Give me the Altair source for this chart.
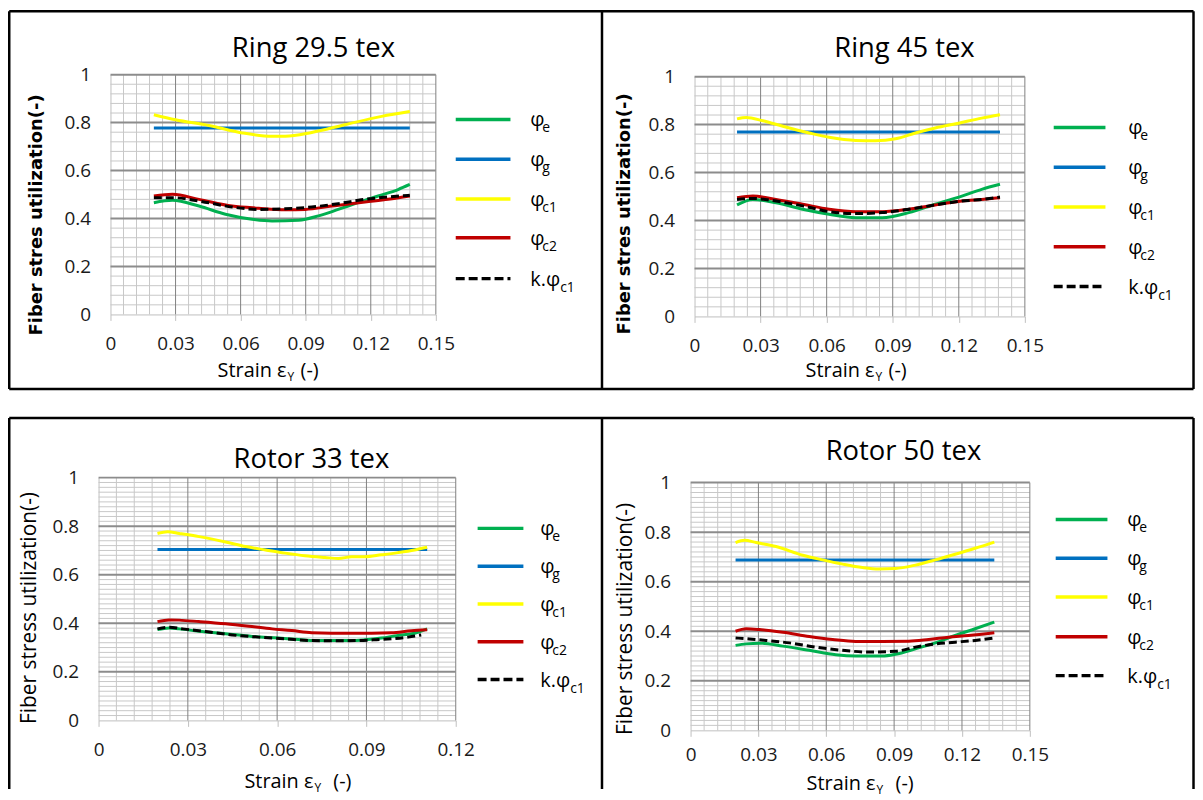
import altair as alt
import pandas as pd
import numpy as np

FONT = "Open Sans"
COLORS = {"e": "#00b050", "g": "#0070c0", "c1": "#ffff00", "c2": "#c00000", "k": "#000000"}

# ---------------- data ----------------
# Ring 29.5 tex
R1_E_X = [0.020, 0.0286, 0.0408, 0.0530, 0.0653, 0.0745, 0.0867, 0.0959, 0.105, 0.114, 0.1234, 0.1326, 0.138]
R1_E_Y = [0.466, 0.476, 0.452, 0.418, 0.397, 0.390, 0.393, 0.411, 0.438, 0.466, 0.494, 0.521, 0.542]
R1_G_X = [0.020, 0.138]
R1_G_Y = [0.778, 0.778]
R1_C1_X = [0.020, 0.030, 0.0454, 0.0607, 0.0745, 0.0806, 0.0928, 0.108, 0.125, 0.138]
R1_C1_Y = [0.833, 0.812, 0.788, 0.757, 0.743, 0.743, 0.759, 0.791, 0.826, 0.846]
R1_C2_X = [0.020, 0.0286, 0.0408, 0.0561, 0.0683, 0.0806, 0.0898, 0.102, 0.1173, 0.128, 0.138]
R1_C2_Y = [0.494, 0.501, 0.480, 0.452, 0.443, 0.437, 0.438, 0.452, 0.469, 0.480, 0.494]
R1_K_X = [0.020, 0.0286, 0.0408, 0.0561, 0.0683, 0.0806, 0.0928, 0.105, 0.1173, 0.128, 0.138]
R1_K_Y = [0.487, 0.487, 0.473, 0.448, 0.438, 0.441, 0.448, 0.462, 0.480, 0.490, 0.497]

# Ring 45 tex
R2_E_X = [0.0193, 0.0265, 0.0370, 0.0491, 0.0611, 0.0732, 0.0852, 0.0973, 0.1093, 0.1214, 0.1304, 0.1387]
R2_E_Y = [0.465, 0.488, 0.474, 0.447, 0.426, 0.412, 0.412, 0.433, 0.468, 0.502, 0.530, 0.551]
R2_G_X = [0.0193, 0.1387]
R2_G_Y = [0.769, 0.769]
R2_C1_X = [0.0193, 0.0235, 0.0310, 0.0401, 0.0521, 0.0611, 0.0732, 0.0822, 0.0913, 0.1003, 0.1093, 0.1199, 0.1304, 0.1387]
R2_C1_Y = [0.824, 0.830, 0.816, 0.793, 0.765, 0.747, 0.734, 0.733, 0.741, 0.765, 0.786, 0.806, 0.827, 0.841]
R2_C2_X = [0.0193, 0.0265, 0.0370, 0.0491, 0.0611, 0.0732, 0.0852, 0.0973, 0.1093, 0.1214, 0.1304, 0.1387]
R2_C2_Y = [0.495, 0.502, 0.488, 0.468, 0.447, 0.437, 0.437, 0.447, 0.465, 0.481, 0.488, 0.495]
R2_K_X = [0.0193, 0.0265, 0.0370, 0.0491, 0.0611, 0.0732, 0.0852, 0.0973, 0.1093, 0.1214, 0.1304, 0.1387]
R2_K_Y = [0.488, 0.492, 0.481, 0.461, 0.437, 0.429, 0.433, 0.447, 0.465, 0.481, 0.488, 0.498]

# Rotor 33 tex
R3_E_X = [0.0198, 0.0237, 0.0271, 0.0338, 0.0427, 0.0516, 0.0605, 0.0672, 0.0728, 0.0783, 0.0850, 0.0895, 0.0950, 0.1006, 0.1062, 0.1104]
R3_E_Y = [0.374, 0.381, 0.377, 0.367, 0.357, 0.346, 0.339, 0.333, 0.329, 0.329, 0.329, 0.332, 0.339, 0.350, 0.359, 0.377]
R3_G_X = [0.0198, 0.1104]
R3_G_Y = [0.704, 0.704]
R3_C1_X = [0.0198, 0.0232, 0.0271, 0.0338, 0.0427, 0.0494, 0.0561, 0.0627, 0.0694, 0.0761, 0.0806, 0.0850, 0.0895, 0.0950, 0.1006, 0.1062, 0.1104]
R3_C1_Y = [0.770, 0.777, 0.770, 0.757, 0.735, 0.716, 0.702, 0.689, 0.678, 0.671, 0.667, 0.674, 0.674, 0.682, 0.691, 0.702, 0.713]
R3_C2_X = [0.0198, 0.0237, 0.0271, 0.0338, 0.0427, 0.0505, 0.0583, 0.0649, 0.0716, 0.0783, 0.0850, 0.0917, 0.0984, 0.1051, 0.1104]
R3_C2_Y = [0.407, 0.414, 0.413, 0.407, 0.398, 0.388, 0.377, 0.370, 0.361, 0.359, 0.359, 0.359, 0.361, 0.369, 0.373]
R3_K_X = [0.0198, 0.0237, 0.0282, 0.0360, 0.0449, 0.0538, 0.0627, 0.0716, 0.0806, 0.0872, 0.0928, 0.0984, 0.1040, 0.1084]
R3_K_Y = [0.377, 0.384, 0.377, 0.366, 0.352, 0.343, 0.336, 0.329, 0.328, 0.329, 0.332, 0.336, 0.343, 0.352]

# Rotor 50 tex
R4_E_X = [0.0199, 0.0246, 0.0305, 0.0408, 0.0525, 0.0642, 0.0730, 0.0848, 0.0906, 0.0994, 0.1082, 0.1170, 0.1258, 0.1343]
R4_E_Y = [0.343, 0.349, 0.352, 0.340, 0.323, 0.305, 0.300, 0.300, 0.307, 0.329, 0.353, 0.383, 0.410, 0.437]
R4_G_X = [0.0199, 0.1343]
R4_G_Y = [0.688, 0.688]
R4_C1_X = [0.0199, 0.0239, 0.0290, 0.0378, 0.0496, 0.0584, 0.0672, 0.0760, 0.0833, 0.0906, 0.0994, 0.1082, 0.1170, 0.1258, 0.1343]
R4_C1_Y = [0.758, 0.767, 0.758, 0.742, 0.707, 0.688, 0.671, 0.657, 0.651, 0.653, 0.667, 0.688, 0.711, 0.735, 0.760]
R4_C2_X = [0.0199, 0.0246, 0.0305, 0.0408, 0.0525, 0.0628, 0.0730, 0.0848, 0.0965, 0.1053, 0.1141, 0.1229, 0.1343]
R4_C2_Y = [0.400, 0.410, 0.407, 0.396, 0.379, 0.367, 0.359, 0.359, 0.360, 0.367, 0.376, 0.383, 0.394]
R4_K_X = [0.0199, 0.0261, 0.0334, 0.0437, 0.0554, 0.0672, 0.0789, 0.0906, 0.0994, 0.1082, 0.1170, 0.1258, 0.1343]
R4_K_Y = [0.373, 0.369, 0.363, 0.353, 0.336, 0.323, 0.316, 0.319, 0.336, 0.349, 0.356, 0.363, 0.373]

SERIES = ["e", "g", "c1", "c2", "k"]
LEG_MAIN = ["φ", "φ", "φ", "φ", "k.φ"]
LEG_SUB = ["e", "g", "c1", "c2", "c1"]
Y_TICKS = [0, 0.2, 0.4, 0.6, 0.8, 1]
X_TICKS_15 = [0, 0.03, 0.06, 0.09, 0.12, 0.15]
X_TICKS_12 = [0, 0.03, 0.06, 0.09, 0.12]

ONE = pd.DataFrame({"a": [0]})


def txt(text, x, y, size, align="left", baseline="alphabetic", angle=0, weight="normal", font=FONT):
    return alt.Chart(pd.DataFrame({"t": [text]})).mark_text(
        align=align, baseline=baseline, fontSize=size, font=font, angle=angle,
        fontWeight=weight, color="#000000"
    ).encode(text="t:N", x=alt.value(x), y=alt.value(y))


def hrule(x1, x2, y, color="#000000", width=2.5, dash=None):
    kw = dict(color=color, strokeWidth=width, strokeCap="butt")
    if dash is not None:
        kw["strokeDash"] = dash
    return alt.Chart(ONE).mark_rule(**kw).encode(x=alt.value(x1), x2=alt.value(x2), y=alt.value(y))


def vrule(x, y1, y2, color="#000000", width=2.5):
    return alt.Chart(ONE).mark_rule(color=color, strokeWidth=width, strokeCap="butt").encode(
        x=alt.value(x), y=alt.value(y1), y2=alt.value(y2))


def panel(cfg):
    xmax = cfg["xmax"]
    xticks = cfg["xticks"]
    ox, oy = cfg["off"]
    pw, ph = cfg["w"], cfg["h"]
    xscale = alt.Scale(domain=[0, xmax], range=[ox, ox + pw], nice=False, zero=False)
    yscale = alt.Scale(domain=[0, 1], range=[oy + ph, oy], nice=False, zero=False)
    xaxis = alt.Axis(values=xticks, format=".2~f", title=None, grid=False, domainColor="#bfbfbf",
                     tickColor="#bfbfbf", tickSize=6, labelFont=FONT, labelFontSize=19,
                     labelColor="#1a1a1a", labelPadding=cfg.get("xpad", 14), labelFlush=False,
                     labelOverlap=False)
    yaxis_kw = dict(values=Y_TICKS, format=".1~f", title=None, grid=False, ticks=False,
                    domainColor="#bfbfbf", labelFont=FONT, labelFontSize=19, labelColor="#1a1a1a",
                    labelPadding=20, labelFlush=False, labelOverlap=False)
    if ox:
        yaxis_kw["offset"] = -ox
    yaxis = alt.Axis(**yaxis_kw)

    def X(f):
        return alt.X(f, type="quantitative", scale=xscale, axis=xaxis)

    def Y(f):
        return alt.Y(f, type="quantitative", scale=yscale, axis=yaxis)

    xs_minor = [v for v in np.round(np.arange(0, xmax + 1e-9, 0.006), 4) if min(abs(v - t) for t in xticks) > 1e-6]
    ys_minor = [v for v in np.round(np.arange(0, 1 + 1e-9, cfg["ystep"]), 4) if min(abs(v - t) for t in Y_TICKS) > 1e-6]
    xs_major = [t for t in xticks if t > 0]
    ys_major = [t for t in Y_TICKS if t > 0]

    def vgrid(vals, color, width):
        df = pd.DataFrame({"v": vals, "lo": 0.0, "hi": 1.0})
        return alt.Chart(df).mark_rule(color=color, strokeWidth=width).encode(x=X("v"), y=Y("lo"), y2="hi")

    def hgrid(vals, color, width):
        df = pd.DataFrame({"v": vals, "lo": 0.0, "hi": xmax})
        return alt.Chart(df).mark_rule(color=color, strokeWidth=width).encode(y=Y("v"), x=X("lo"), x2="hi")

    layers = [
        vgrid(xs_minor, "#c8c8c8", 1),
        hgrid(ys_minor, "#c8c8c8", 1),
        vgrid(xs_major, "#808080", 1),
        hgrid(ys_major, "#8c8c8c", 2),
    ]
    for s in SERIES:
        xs, ys = cfg["data"][s]
        kw = dict(color=COLORS[s], strokeWidth=3, interpolate="monotone")
        if s == "k":
            kw["strokeDash"] = [8, 4]
        layers.append(alt.Chart(pd.DataFrame({"x": xs, "y": ys})).mark_line(**kw).encode(x=X("x"), y=Y("y")))

    # legend
    lx1, lx2 = cfg["leg_x"]
    lab = cfg["leg_lab"] + ox
    for i, s in enumerate(SERIES):
        ry = cfg["leg_rows"][i] + oy
        layers.append(hrule(lx1 + ox, lx2 + ox, ry, color=COLORS[s], width=3.5, dash=[9, 4] if s == "k" else None))
        layers.append(txt(LEG_MAIN[i], lab, ry + 7, 20))
        off = 30 if LEG_MAIN[i] == "k.φ" else 12
        layers.append(txt(LEG_SUB[i], lab + off, ry + 13, 14))

    # title
    tx, ty = cfg["title_pos"]
    layers.append(txt(cfg["title"], tx + ox, ty + oy, 27.5, align="center", baseline="middle"))
    # y title
    yx, yy = cfg["ytitle_pos"]
    layers.append(txt(cfg["ytitle"], yx + ox, yy + oy, cfg["ytitle_size"], align="center", baseline="middle",
                      angle=270, weight=cfg["ytitle_weight"], font=cfg["ytitle_font"]))
    # x title: Strain ε_Y (-)
    cx, cy = cfg["xtitle_pos"]
    cx += ox
    cy += oy
    layers.append(txt("Strain ε", cx + 14, cy + 7, 20, align="right"))
    layers.append(txt("Y", cx + 15, cy + 11, 12))
    layers.append(txt("(-)", cx + cfg["xtitle_gap"], cy + 7, 20))

    for fr in cfg.get("frames", []):
        layers.append(fr)

    return alt.layer(*layers).properties(width=ox + pw, height=oy + ph)


# Page layout: view origins A(99,73) B(694,73) C(99,478) D(694,478)
# frames (panel borders), given relative to the view origins of A and C
top_frames = [
    hrule(9.25 - 99, 1199.5 - 99, 9.25 - 73), hrule(9.25 - 99, 1199.5 - 99, 389 - 73),
    vrule(9.25 - 99, 9.25 - 73, 389 - 73), vrule(605 - 99, 9.25 - 73, 389 - 73),
    vrule(1199.5 - 99, 9.25 - 73, 389 - 73),
]
bot_frames = [
    hrule(9.25 - 99, 1199.5 - 99, 418 - 478),
    vrule(9.25 - 99, 418 - 478, 791 - 478), vrule(605 - 99, 418 - 478, 791 - 478),
    vrule(1199.5 - 99, 418 - 478, 791 - 478),
]

A = panel(dict(title="Ring 29.5 tex", xmax=0.15, xticks=X_TICKS_15, w=327, h=241, off=(12, 0), ystep=0.04,
               data={"e": (R1_E_X, R1_E_Y), "g": (R1_G_X, R1_G_Y), "c1": (R1_C1_X, R1_C1_Y),
                     "c2": (R1_C2_X, R1_C2_Y), "k": (R1_K_X, R1_K_Y)},
               leg_x=(347, 402), leg_rows=[45, 85, 125, 164, 205], leg_lab=422,
               title_pos=(204, -26), ytitle="Fiber stres utilization(-)", ytitle_pos=(-74, 141),
               ytitle_size=18, ytitle_weight="bold", ytitle_font="DejaVu Sans",
               xtitle_pos=(163, 297), xtitle_gap=28, frames=top_frames))
B = panel(dict(title="Ring 45 tex", xmax=0.15, xticks=X_TICKS_15, w=332, h=241, off=(4, 2), ystep=0.04,
               data={"e": (R2_E_X, R2_E_Y), "g": (R2_G_X, R2_G_Y), "c1": (R2_C1_X, R2_C1_Y),
                     "c2": (R2_C2_X, R2_C2_Y), "k": (R2_K_X, R2_K_Y)},
               leg_x=(361, 413), leg_rows=[51, 91, 131, 171, 211], leg_lab=436,
               title_pos=(211, -28), ytitle="Fiber stres utilization(-)", ytitle_pos=(-70, 138),
               ytitle_size=18, ytitle_weight="bold", ytitle_font="DejaVu Sans",
               xtitle_pos=(167, 295), xtitle_gap=28))
C = panel(dict(title="Rotor 33 tex", xmax=0.12, xticks=X_TICKS_12, w=359, h=244, off=(0, 0), ystep=0.02,
               data={"e": (R3_E_X, R3_E_Y), "g": (R3_G_X, R3_G_Y), "c1": (R3_C1_X, R3_C1_Y),
                     "c2": (R3_C2_X, R3_C2_Y), "k": (R3_K_X, R3_K_Y)},
               leg_x=(381, 427), leg_rows=[51, 89, 127, 165, 203], leg_lab=444,
               title_pos=(214, -18), ytitle="Fiber stress utilization(-)", ytitle_pos=(-69, 131),
               ytitle_size=21, ytitle_weight="normal", ytitle_font=FONT,
               xtitle_pos=(202, 305), xtitle_gap=34, frames=bot_frames))
D = panel(dict(title="Rotor 50 tex", xmax=0.15, xticks=X_TICKS_15, w=341, h=249, off=(0, 5), ystep=0.02,
               data={"e": (R4_E_X, R4_E_Y), "g": (R4_G_X, R4_G_Y), "c1": (R4_C1_X, R4_C1_Y),
                     "c2": (R4_C2_X, R4_C2_Y), "k": (R4_K_X, R4_K_Y)},
               leg_x=(367, 419), leg_rows=[37, 76, 115, 155, 194], leg_lab=439,
               title_pos=(214, -31), ytitle="Fiber stress utilization(-)", ytitle_pos=(-65, 137),
               ytitle_size=21, ytitle_weight="normal", ytitle_font=FONT,
               xtitle_pos=(172, 302), xtitle_gap=34, xpad=9))

# column 0 width = max(339, 359) = 359 -> column gap 236 puts column 1 at page x 694
# row 0 height = max(241, 243) = 243 -> row gap 162 puts row 1 at page y 478
chart = alt.concat(A, B, C, D, columns=2, spacing={"row": 162, "column": 236},
                   bounds="flush", align="each").properties(
    padding=0, background="#ffffff"
).configure_view(stroke=None)

chart.save("out.html", embed_options={"renderer": "svg", "actions": False})
